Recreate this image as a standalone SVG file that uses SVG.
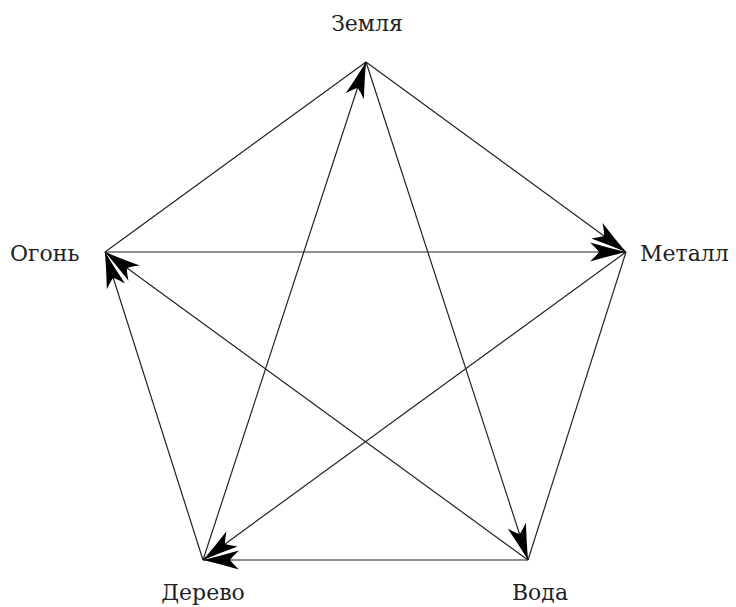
<svg xmlns="http://www.w3.org/2000/svg" width="736" height="607" viewBox="0 0 736 607">
<style>
.e{stroke:#222;stroke-width:1.2;fill:none}
.a{marker-end:url(#ah)}
.t{font-family:'DejaVu Serif',serif;font-size:22px;fill:#222}
</style>
<defs>
<marker id="ah" markerUnits="userSpaceOnUse" markerWidth="42" markerHeight="24" viewBox="-40 -12 42 24" refX="0" refY="0" orient="auto">
<path d="M0,0 Q-17,-4 -36,-9.5 Q-30,-4 -27,0 Q-30,4 -36,9.5 Q-17,4 0,0 Z" fill="#000"/>
</marker>
</defs>
<rect width="736" height="607" fill="#fff"/>
<g id="connectors">
<line class="e" x1="105" y1="252" x2="366" y2="62"/>
<line class="e" x1="626" y1="252" x2="528" y2="560"/>
<line class="e a" x1="366" y1="62" x2="626" y2="252"/>
<line class="e a" x1="105" y1="252" x2="626" y2="252"/>
<line class="e a" x1="366" y1="62" x2="528" y2="560"/>
<line class="e a" x1="626" y1="252" x2="203" y2="560"/>
<line class="e a" x1="528" y1="560" x2="203" y2="560"/>
<line class="e a" x1="203" y1="560" x2="366" y2="62"/>
<line class="e a" x1="203" y1="560" x2="105" y2="252"/>
<line class="e a" x1="528" y1="560" x2="105" y2="252"/>
</g>
<g id="zemlya"><text class="t" x="367" y="31" text-anchor="middle">Земля</text></g>
<g id="metall"><text class="t" x="640" y="261">Металл</text></g>
<g id="ogon"><text class="t" x="10" y="261">Огонь</text></g>
<g id="derevo"><text class="t" x="203" y="600" text-anchor="middle">Дерево</text></g>
<g id="voda"><text class="t" x="540" y="600" text-anchor="middle">Вода</text></g>
</svg>
